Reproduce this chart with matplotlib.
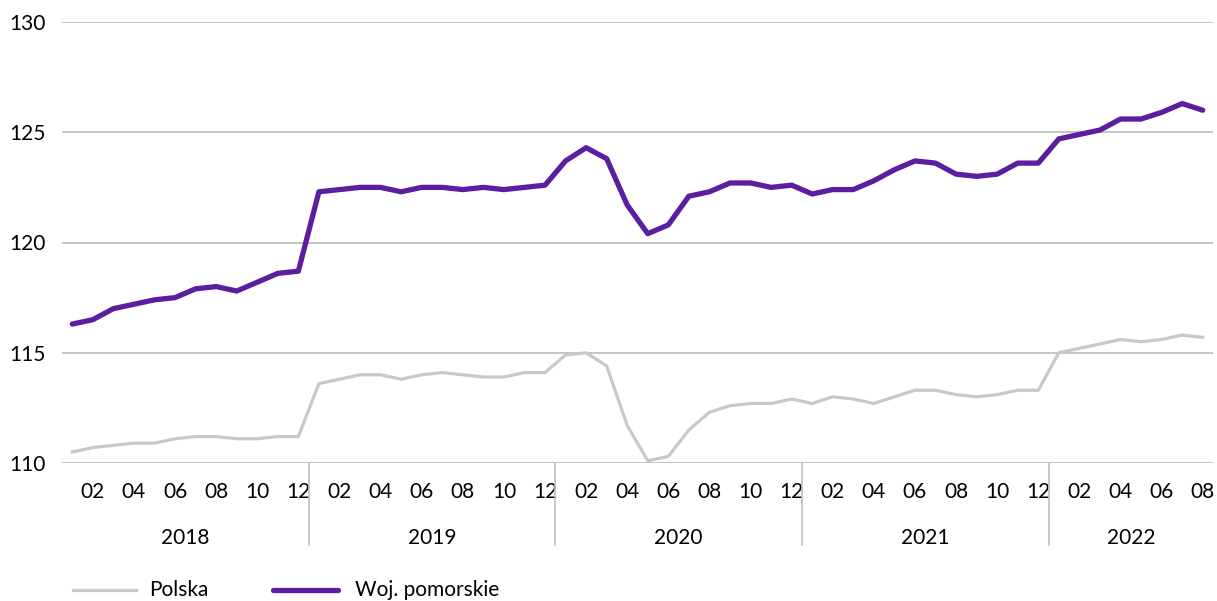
import numpy as np
import matplotlib.pyplot as plt
from matplotlib.lines import Line2D

# monthly data, 2018-01 .. 2022-08
years = ["2018", "2019", "2020", "2021", "2022"]
months_per_year = [12, 12, 12, 12, 8]

polska = [
    110.5, 110.7, 110.8, 110.9, 110.9, 111.1, 111.2, 111.2, 111.1, 111.1, 111.2, 111.2,
    113.6, 113.8, 114.0, 114.0, 113.8, 114.0, 114.1, 114.0, 113.9, 113.9, 114.1, 114.1,
    114.9, 115.0, 114.4, 111.7, 110.1, 110.3, 111.5, 112.3, 112.6, 112.7, 112.7, 112.9,
    112.7, 113.0, 112.9, 112.7, 113.0, 113.3, 113.3, 113.1, 113.0, 113.1, 113.3, 113.3,
    115.0, 115.2, 115.4, 115.6, 115.5, 115.6, 115.8, 115.7,
]
pomorskie = [
    116.3, 116.5, 117.0, 117.2, 117.4, 117.5, 117.9, 118.0, 117.8, 118.2, 118.6, 118.7,
    122.3, 122.4, 122.5, 122.5, 122.3, 122.5, 122.5, 122.4, 122.5, 122.4, 122.5, 122.6,
    123.7, 124.3, 123.8, 121.7, 120.4, 120.8, 122.1, 122.3, 122.7, 122.7, 122.5, 122.6,
    122.2, 122.4, 122.4, 122.8, 123.3, 123.7, 123.6, 123.1, 123.0, 123.1, 123.6, 123.6,
    124.7, 124.9, 125.1, 125.6, 125.6, 125.9, 126.3, 126.0,
]
series_names = ["Polska", "Woj. pomorskie"]

GREY = "#c8c8c8"
PURPLE = "#5b1e9f"
GRID = "#bfbfbf"
FS = 15

plt.rcParams["font.family"] = "Lato"

W, H = 1217, 601
fig = plt.figure(figsize=(W / 100, H / 100), dpi=100)
ax = fig.add_axes([62 / W, 1 - 463 / H, (1213 - 62) / W, (463 - 22) / H])

x = np.arange(len(polska))
ax.plot(x, polska, color=GREY, lw=2.3, solid_joinstyle="round", zorder=3)
ax.plot(x, pomorskie, color=PURPLE, lw=3.8, solid_joinstyle="round",
        solid_capstyle="round", zorder=4)

ax.set_xlim(-0.5, len(x) - 0.5)
ax.set_ylim(110, 130)
ax.set_yticks([110, 115, 120, 125, 130])
for y in [110, 115, 120, 125, 130]:
    ax.axhline(y, color=GRID, lw=1.3, zorder=1)

for s in ax.spines.values():
    s.set_visible(False)

ax.tick_params(axis="y", length=0, pad=53 * 0.72, labelsize=FS)
for lbl in ax.get_yticklabels():
    lbl.set_horizontalalignment("left")

# month ticks (even months) and year groups
month_pos = []
month_lbl = []
start = 0
for yr, n in zip(years, months_per_year):
    for m in range(1, n + 1):
        if m % 2 == 0:
            month_pos.append(start + m - 1)
            month_lbl.append(f"{m:02d}")
    start += n
ax.set_xticks(month_pos)
ax.set_xticklabels(month_lbl)
ax.tick_params(axis="x", length=0, pad=14, labelsize=FS)

trans = ax.get_xaxis_transform()
start = 0
for i, (yr, n) in enumerate(zip(years, months_per_year)):
    ax.text(start + (n - 1) / 2, -0.17, yr, transform=trans, ha="center",
            va="center", fontsize=FS)
    if i > 0:
        ax.add_line(Line2D([start - 0.5, start - 0.5], [0, -0.186], transform=trans,
                           color=GRID, lw=1.2, clip_on=False))
    start += n

# legend drawn by hand (figure pixel coords)
ly = 1 - 590 / H
fig.add_artist(Line2D([73 / W, 136 / W], [ly, ly], color=GREY, lw=2.3,
                      transform=fig.transFigure))
fig.text(149 / W, ly, series_names[0], fontsize=FS, va="center", ha="left")
fig.add_artist(Line2D([273 / W, 338 / W], [ly, ly], color=PURPLE, lw=3.8,
                      solid_capstyle="round", transform=fig.transFigure))
fig.text(355 / W, ly, series_names[1], fontsize=FS, va="center", ha="left")

fig.savefig("out.png", dpi=100)
